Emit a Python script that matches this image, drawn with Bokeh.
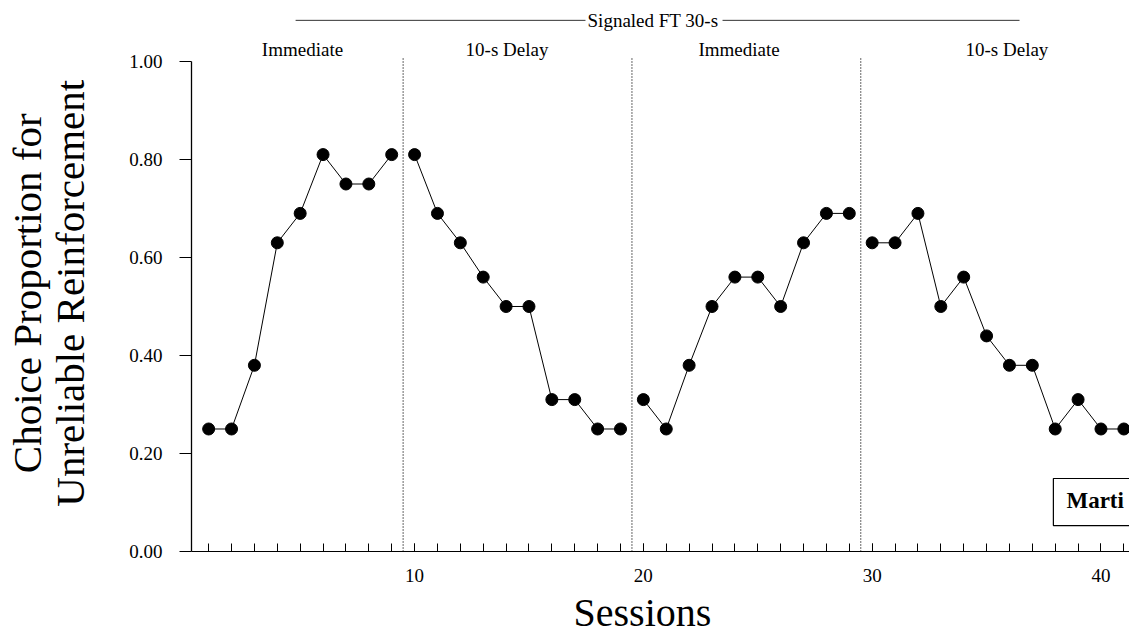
import numpy as np
from bokeh.plotting import figure
from bokeh.models import Range1d, FixedTicker, SingleIntervalTicker, PrintfTickFormatter
from bokeh.core.properties import value
from bokeh.embed import file_html
from bokeh.resources import INLINE

# ---------------- data ----------------
sessions_p1 = [1, 2, 3, 4, 5, 6, 7, 8, 9]
values_p1 = [0.25, 0.25, 0.38, 0.63, 0.69, 0.81, 0.75, 0.75, 0.81]
sessions_p2 = [10, 11, 12, 13, 14, 15, 16, 17, 18, 19]
values_p2 = [0.81, 0.69, 0.63, 0.56, 0.50, 0.50, 0.31, 0.31, 0.25, 0.25]
sessions_p3 = [20, 21, 22, 23, 24, 25, 26, 27, 28, 29]
values_p3 = [0.31, 0.25, 0.38, 0.50, 0.56, 0.56, 0.50, 0.63, 0.69, 0.69]
sessions_p4 = [30, 31, 32, 33, 34, 35, 36, 37, 38, 39, 40, 41]
values_p4 = [0.63, 0.63, 0.69, 0.50, 0.56, 0.44, 0.38, 0.38, 0.25, 0.31, 0.25, 0.25]
phase_labels = ["Immediate", "10-s Delay", "Immediate", "10-s Delay"]
phase_breaks = [9.5, 19.5, 29.5]
y_ticks = [0.0, 0.2, 0.4, 0.6, 0.8, 1.0]
condition_label = "Signaled FT 30-s"
subject_label = "Marti"
x_axis_title = "Sessions"
y_axis_title = ["Choice Proportion for", "Unreliable Reinforcement"]

FONT = "Liberation Serif"
X0, X1 = 0.25, 41.247      # session axis shown from X0
Y_LO, Y_HI = -0.1694, 1.1245

p = figure(width=1129, height=634,
           x_range=Range1d(-8.098, X1), y_range=Range1d(Y_LO, Y_HI),
           output_backend="svg", toolbar_location=None,
           min_border=0, min_border_left=0, min_border_right=0,
           min_border_top=0, min_border_bottom=0)
p.outline_line_color = None
p.background_fill_color = "white"
p.border_fill_color = "white"
p.xgrid.visible = False
p.ygrid.visible = False

# x axis (pinned at y = 0)
xa = p.xaxis[0]
xa.fixed_location = 0
xa.bounds = (X0, X1)
xa.ticker = SingleIntervalTicker(interval=10, num_minor_ticks=10)
xa.major_tick_in = 8
xa.major_tick_out = 0
xa.minor_tick_in = 8
xa.minor_tick_out = 0
xa.axis_line_color = "black"
xa.major_tick_line_color = "black"
xa.minor_tick_line_color = "black"
xa.major_label_text_font = FONT
xa.major_label_text_font_size = "19px"
xa.major_label_text_color = "black"
xa.major_label_standoff = 18

# y axis (pinned at x = X0)
ya = p.yaxis[0]
ya.fixed_location = X0
ya.bounds = (0, 1)
ya.ticker = FixedTicker(ticks=y_ticks)
ya.formatter = PrintfTickFormatter(format="%.2f")
ya.major_tick_in = 0
ya.major_tick_out = 12
ya.minor_tick_line_color = None
ya.axis_line_color = "black"
ya.axis_line_width = 1.3
ya.major_tick_line_color = "black"
ya.major_label_text_font = FONT
ya.major_label_text_font_size = "19px"
ya.major_label_text_color = "black"
ya.major_label_standoff = 17

# phase dividers
p.segment(x0=phase_breaks, y0=[0] * 3, x1=phase_breaks, y1=[1.01] * 3,
          line_color="black", line_width=1.2, line_dash="1 2")

# data series
for xs, ys in [(sessions_p1, values_p1), (sessions_p2, values_p2),
               (sessions_p3, values_p3), (sessions_p4, values_p4)]:
    p.line(xs, ys, line_color="black", line_width=1)
    p.scatter(xs, ys, size=12, marker="circle", fill_color="black", line_color="black")

# header
p.text(x=[5.10, 14.04, 24.18, 35.89], y=[1.024] * 4, text=phase_labels,
       text_font=value(FONT), text_font_size="19px", text_align="center",
       text_baseline="alphabetic", text_color="black")
p.text(x=[20.42], y=[1.083], text=[condition_label],
       text_font=value(FONT), text_font_size="19px", text_align="center",
       text_baseline="alphabetic", text_color="black")
p.segment(x0=[4.80, 23.46], y0=[1.084] * 2, x1=[17.47, 36.44], y1=[1.084] * 2,
          line_color="#333333", line_width=1)

# subject box
p.quad(left=[37.92], right=[42.5], bottom=[0.053], top=[0.149],
       fill_color="white", line_color="black", line_width=1.2)
p.text(x=[38.49], y=[0.105], text=[subject_label],
       text_font=value(FONT), text_font_size="23px", text_font_style="bold",
       text_align="left", text_baseline="alphabetic", text_color="black")

# axis titles
p.text(x=[19.96], y=[-0.124], text=[x_axis_title],
       text_font=value(FONT), text_font_size="40px", text_align="center",
       text_baseline="alphabetic", text_color="black")
p.text(x=[-6.94, -5.07], y=[0.527, 0.527], text=y_axis_title, angle=np.pi / 2,
       text_font=value(FONT), text_font_size="41px", text_align="center",
       text_baseline="middle", text_color="black")

open("out.html", "w").write(file_html(p, INLINE))
